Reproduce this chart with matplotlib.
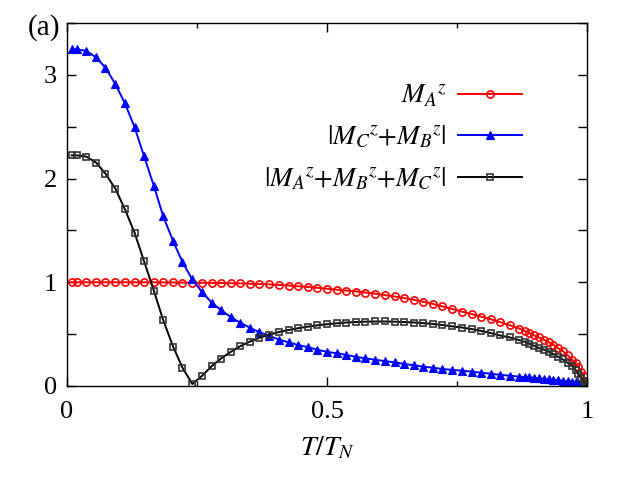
import matplotlib
matplotlib.use('Agg')
import matplotlib.pyplot as plt
import numpy as np

plt.rcParams['font.family'] = ['Liberation Serif', 'DejaVu Serif']
plt.rcParams['mathtext.fontset'] = 'stix'

# T/T_N grid
t_ratio = [0.009, 0.019, 0.037, 0.056, 0.074, 0.093, 0.111, 0.130, 0.148, 0.167,
           0.185, 0.204, 0.222, 0.241, 0.259, 0.278, 0.296, 0.315, 0.333, 0.352,
           0.370, 0.389, 0.407, 0.426, 0.444, 0.463, 0.481, 0.500, 0.519, 0.537,
           0.556, 0.574, 0.593, 0.611, 0.630, 0.648, 0.667, 0.685, 0.704, 0.722,
           0.741, 0.759, 0.778, 0.796, 0.815, 0.833, 0.852,
           0.870, 0.880, 0.889, 0.898, 0.907, 0.917, 0.926, 0.935, 0.944, 0.954,
           0.963, 0.972, 0.978, 0.983, 0.989, 0.994, 0.997, 1.000]

# M_A^z
m_a = [1.0, 1.0, 1.0, 1.0, 1.0, 1.0, 1.0, 1.0, 1.0, 1.0,
       0.999, 0.998, 0.997, 0.996, 0.995, 0.994, 0.993, 0.991, 0.989, 0.986,
       0.984, 0.980, 0.975, 0.969, 0.962, 0.955, 0.947, 0.938, 0.929, 0.920,
       0.911, 0.901, 0.890, 0.877, 0.863, 0.848, 0.831, 0.812, 0.791, 0.767,
       0.742, 0.718, 0.694, 0.669, 0.644, 0.616, 0.585,
       0.553, 0.530, 0.510, 0.489, 0.468, 0.446, 0.424, 0.398, 0.367, 0.334,
       0.295, 0.252, 0.219, 0.181, 0.139, 0.092, 0.045, 0.005]

# |M_C^z + M_B^z|
m_cb = [3.245, 3.245, 3.232, 3.168, 3.070, 2.910, 2.730, 2.495, 2.218, 1.930,
        1.637, 1.398, 1.195, 1.027, 0.911, 0.805, 0.733, 0.664, 0.610, 0.562,
        0.518, 0.485, 0.448, 0.422, 0.396, 0.375, 0.349, 0.330, 0.315, 0.300,
        0.280, 0.267, 0.252, 0.241, 0.228, 0.213, 0.200, 0.187, 0.176, 0.164,
        0.155, 0.148, 0.139, 0.129, 0.118, 0.108, 0.099,
        0.090, 0.086, 0.082, 0.078, 0.074, 0.069, 0.065, 0.060, 0.055, 0.050,
        0.045, 0.040, 0.036, 0.031, 0.026, 0.020, 0.013, 0.004]

# |M_A^z + M_B^z + M_C^z|
m_tot = [2.224, 2.224, 2.212, 2.154, 2.047, 1.902, 1.709, 1.477, 1.206, 0.919,
         0.635, 0.380, 0.177, 0.019, 0.095, 0.190, 0.264, 0.330, 0.384, 0.429,
         0.465, 0.495, 0.520, 0.540, 0.557, 0.572, 0.585, 0.596, 0.605, 0.612,
         0.617, 0.620, 0.622, 0.622, 0.620, 0.617, 0.612, 0.606, 0.598, 0.588,
         0.575, 0.564, 0.549, 0.532, 0.510, 0.487, 0.468,
         0.442, 0.426, 0.408, 0.389, 0.367, 0.351, 0.332, 0.308, 0.282, 0.256,
         0.222, 0.190, 0.155, 0.113, 0.075, 0.045, 0.020, 0.003]

labels = [r'$M_A{}^z$', r'$|M_C{}^z{+}M_B{}^z|$', r'$|M_A{}^z{+}M_B{}^z{+}M_C{}^z|$']

x_ticks = [0, 0.5, 1]
x_ticklabels = ['0', '0.5', '1']
x_minor = [0.25, 0.75]
y_ticks = [0, 0.5, 1, 1.5, 2, 2.5, 3, 3.5]
y_ticklabels = ['0', '', '1', '', '2', '', '3', '']

fig = plt.figure(figsize=(6.4, 4.8), dpi=100)
ax = fig.add_axes([67/640, 1-386/480, 520/640, 363/480])

ax.plot(t_ratio, m_a, color='red', lw=1.4, marker='o', ms=5.2, mfc='none',
        mew=1.2, label=labels[0])
ax.plot(t_ratio, m_cb, color='blue', lw=1.4, marker='^', ms=6, mfc='blue',
        mew=0.8, label=labels[1])
ax.plot(t_ratio, m_tot, color='black', lw=1.4, marker='s', ms=5, mfc='none',
        mec='#333333', mew=1.2, label=labels[2])

ax.set_xlim(0, 1)
ax.set_ylim(0, 3.5)
ax.set_xticks(x_ticks)
ax.set_xticklabels(x_ticklabels)
ax.set_xticks(x_minor, minor=True)
ax.set_yticks(y_ticks)
ax.set_yticklabels(y_ticklabels)
ax.tick_params(which='both', direction='in', top=True, right=True, labelsize=19)
ax.tick_params(which='major', length=6.5, width=1)
ax.tick_params(which='minor', length=3.3, width=1)
ax.tick_params(axis='x', pad=11)
ax.tick_params(axis='y', pad=7)
for s in ax.spines.values():
    s.set_linewidth(1)

ax.set_xlabel(r'$T/T_N$', fontsize=20, labelpad=8)

leg = ax.legend(loc='upper right', bbox_to_anchor=(0.875, 0.836), markerfirst=False,
                frameon=False, fontsize=19.5, handlelength=2.35, handletextpad=0.44,
                labelspacing=0.55, borderpad=0, borderaxespad=0)

fig.text(44/640, 1-28/480, '(a)', fontsize=21, ha='center', va='center')

fig.savefig('out.png', dpi=100)
